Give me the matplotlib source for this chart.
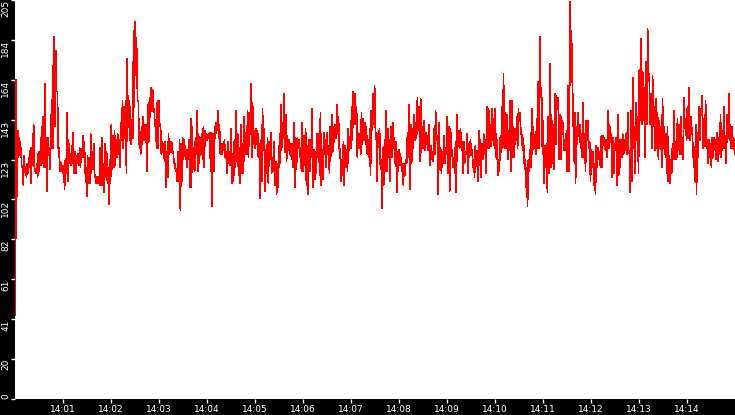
import matplotlib
matplotlib.use("Agg")
import matplotlib.pyplot as plt
import numpy as np
import pandas as pd

day = "2024-01-01 "

# samples, grouped by time window
seg_a = [43, 164, 104,
         138, 124, 134, 129, 129, 119, 119, 110, 125, 117, 119, 114, 121, 116, 124, 119, 129, 111, 129, 128,
         141, 117, 118, 116, 121, 114, 127, 117, 127, 120, 140, 121, 145, 119, 162, 119, 134, 107, 134, 129,
         129, 118, 146, 129, 171, 129, 186, 140, 179, 158, 158, 129, 129, 117, 122, 117, 120, 116, 120, 108,
         123, 116, 147, 112, 133, 121, 126, 120, 130, 121, 137, 116, 127, 116, 125, 121, 126, 120, 129, 119,
         128, 124, 135, 124, 132, 116, 117, 104, 125, 111, 124, 111, 136, 116, 127, 118, 131, 114, 115, 111,
         114, 111, 114, 110, 129, 110, 134, 110, 121, 106, 131, 114, 127, 111, 119, 100, 123, 111, 141, 118,
         135, 119, 138, 120, 133, 124, 136, 126, 133, 119, 142, 133, 153, 129, 150, 134, 153, 116, 175, 140,
         153, 133, 150, 131, 140, 134, 189, 150, 194, 181, 180, 153, 153, 131, 132, 126, 140, 131, 145, 133,
         141, 132, 141, 117, 151, 132, 155, 145, 160, 148, 159, 148, 149, 140, 140, 129, 153, 129, 153, 140,
         140, 126, 132, 127, 131, 122, 132, 109, 127, 114, 136, 126, 132, 127, 132, 127, 127, 121, 121, 117,
         118, 112, 127, 112, 133, 97, 131, 112, 134, 123, 133, 126, 128, 119, 128, 123, 133, 109, 144, 109,
         140, 118, 124, 117, 134, 126, 148, 117, 136, 121]
seg_b = [134, 126, 136, 123, 140, 119, 138, 133, 136, 133, 136, 134, 137, 117, 137, 99, 136, 117, 140, 134,
         142, 138]
seg_c = [148, 134, 141, 126, 131, 126, 131, 128, 133, 124, 127, 116, 132, 121, 127, 120, 139, 111, 126, 112,
         133, 119, 148, 122, 136, 115, 129, 111, 141, 116, 131, 116, 145, 126, 134, 126, 148, 124, 147, 136,
         162, 124, 152, 131, 138, 129, 139, 131, 138, 124, 131, 103, 133, 112, 149, 128, 139, 107, 128, 116,
         134, 111, 132, 123, 137, 116, 124, 117, 132, 110, 122, 105, 121, 109, 130, 121, 151, 128, 142, 134,
         157, 127, 146, 122, 135, 128, 133, 126, 131, 123, 131, 119, 142, 109, 134, 118, 134, 130, 133, 124,
         129, 117, 142, 117, 135, 120, 139, 110, 130, 105, 133, 117, 133, 124]
seg_d = [149, 109, 128, 113, 127, 116, 136, 125, 136, 115, 147, 110, 128, 113, 137, 126, 133, 119, 137, 126,
         130, 116, 140, 125, 146, 127, 140, 132, 141, 134, 151, 136, 145, 129, 128, 112, 123, 115, 132, 110,
         130, 119, 128, 117, 139, 128, 134, 129, 150, 133, 158, 141, 157, 141, 150, 124, 137, 129, 136, 126,
         147, 131, 144, 133, 142, 131, 140, 126, 133, 124, 139, 115, 148, 138, 157, 141, 161, 137, 136, 112,
         136, 134, 139, 120, 123, 98, 129, 110, 133, 117, 148, 117, 139, 124, 133, 112, 140, 124, 142, 129,
         134, 121, 132, 106, 127, 117, 128, 124, 124, 117, 121, 110, 121, 115]
seg_e = [123, 121, 137, 124, 151, 108, 141, 121, 139, 129, 146, 133, 142, 134, 155, 138, 150, 122, 154, 127,
         140, 129, 143, 128, 137, 131, 135, 128, 141, 120, 130, 123, 127, 122, 139, 126, 148, 133, 135, 105,
         142, 118, 129, 116, 127, 121, 135, 121, 129, 126, 145, 116, 140, 107, 139, 125, 128, 119, 124, 116,
         132, 106, 146, 130, 138, 129, 139, 131, 132, 116, 132, 121, 127, 126, 136, 116, 131, 124, 133, 127,
         128, 119, 123, 114, 130, 123, 124, 112, 138, 120, 133, 114, 131, 123, 136, 126, 133, 116, 150, 129,
         149, 129, 141, 130, 149, 133, 144, 129, 149, 124, 133, 115, 123, 117]
seg_f = [134, 127, 150, 129, 167, 129, 147, 129, 146, 123, 138, 128, 153, 117, 153, 124, 140, 124, 139, 133,
         145, 129, 149, 143, 147, 136, 136, 128, 134, 121, 123, 109, 119, 99, 123, 117, 128, 119, 149, 126,
         140, 129, 134, 126, 144, 129, 163, 129, 186, 155, 156, 126, 143, 111, 130, 119, 131, 106, 145, 116,
         172, 119, 146, 121, 141, 118, 157, 131, 156, 150, 155, 123, 146, 123, 145, 136, 142, 128, 131, 128,
         138, 117, 161, 117, 204, 161, 189, 165,
         148, 122, 147, 111, 140, 131, 147, 135, 141, 129, 136, 124, 152, 124, 136, 117, 143, 133, 143, 129,
         132, 112, 128, 119, 127, 110, 121, 105, 130, 119, 129, 123, 127, 119, 135, 119, 135, 131, 134, 128,
         133, 124, 148, 129, 141, 134, 136, 114, 134, 116, 131, 128, 134, 110, 146, 115, 133, 119, 133, 124,
         136, 126, 133, 128, 136, 126,
         147, 128, 126, 106, 148, 112, 165, 129, 140, 116, 152, 133, 145, 116, 169, 143, 185, 141, 168, 143,
         160, 124, 173, 141, 190, 168, 165, 141, 157, 129, 166, 140, 150, 128, 154, 129, 147, 123, 143, 129,
         140, 119, 154, 129, 140, 126, 136, 116,
         140, 112, 125, 111, 123, 116, 131, 123, 148, 123, 131, 123, 144, 128, 141, 126, 145, 126, 134, 123,
         155, 140, 142, 133, 150, 134, 160, 133, 145, 140, 136, 124, 124, 112, 141, 105, 137, 124, 150, 133,
         149, 146, 156, 129, 141, 130, 153, 129, 133, 121, 133, 124, 131, 119, 134, 124, 134, 128, 133, 123,
         137, 122, 134, 126, 146, 124, 134, 129, 150, 129, 135, 121, 146, 134, 157, 133, 141, 129, 140, 129,
         134, 126]

# time window covered by each group
windows = [(seg_a, "14:00:00", "14:03:51"),
           (seg_b, "14:03:51", "14:04:13"),
           (seg_c, "14:04:13", "14:06:11"),
           (seg_d, "14:06:11", "14:08:08"),
           (seg_e, "14:08:08", "14:10:06"),
           (seg_f, "14:10:06", "14:15:00")]

x_labels = ["14:01", "14:02", "14:03", "14:04", "14:05", "14:06", "14:07",
            "14:08", "14:09", "14:10", "14:11", "14:12", "14:13", "14:14"]
y_ticks = [0, 20.5, 41, 61.5, 82, 102.5, 123, 143.5, 164, 184.5, 205]
y_labels = ["0", "20", "41", "61", "82", "102", "123", "143", "164", "184", "205"]

times, values = [], []
for seg, t0, t1 in windows:
    a = pd.Timestamp(day + t0).value
    b = pd.Timestamp(day + t1).value
    step = (b - a) / len(seg)
    times.append(a + (np.arange(len(seg)) + 0.5) * step)
    values += seg
times = pd.to_datetime(np.concatenate(times)).to_numpy()

fig = plt.figure(figsize=(7.35, 4.15), dpi=100, facecolor="black")
ax = fig.add_axes([15 / 735, 16 / 415, 720 / 735, 399 / 415])
ax.set_facecolor("white")
ax.plot(times, values, color="#ff0000", lw=0.5, antialiased=False)

ax.set_xlim(pd.Timestamp(day + "14:00:00").to_numpy(), pd.Timestamp(day + "14:15:00").to_numpy())
ax.set_ylim(0, 205)
ax.set_xticks([pd.Timestamp(day + t).to_numpy() for t in x_labels], x_labels)
ax.set_yticks(y_ticks, y_labels)

for s in ax.spines.values():
    s.set_visible(False)
ax.tick_params(colors="white", labelsize=6.5, length=2.9, width=1)
ax.tick_params(axis="y", pad=0.4)
ax.tick_params(axis="x", pad=1.5)
for lab in ax.get_yticklabels():
    lab.set_rotation(90)
    lab.set_verticalalignment("top")
ax.get_yticklabels()[0].set_verticalalignment("bottom")

fig.savefig("out.png", dpi=100, facecolor="black")
